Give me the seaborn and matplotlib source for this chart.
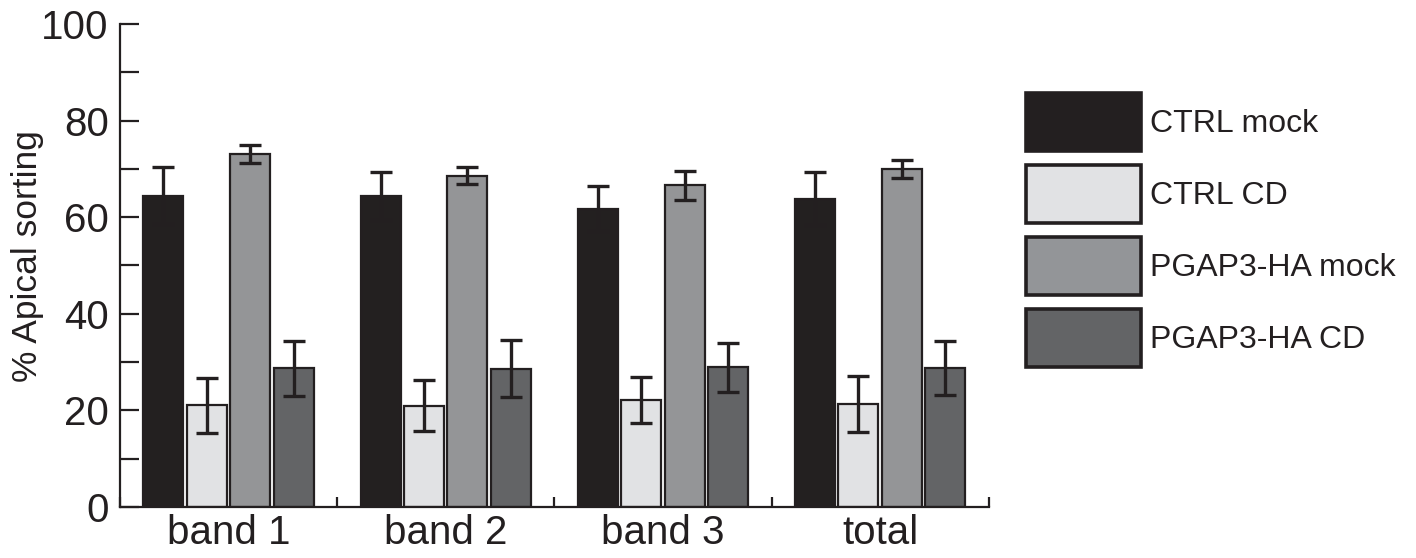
import pandas as pd
import matplotlib.pyplot as plt
import seaborn as sns
import numpy as np

# values
groups = ["band 1", "band 2", "band 3", "total"]
conditions = ["CTRL mock", "CTRL CD", "PGAP3-HA mock", "PGAP3-HA CD"]
ctrl_mock = [64.4, 64.4, 61.8, 63.8]
ctrl_cd = [21.1, 21.0, 22.2, 21.3]
pgap_mock = [73.1, 68.6, 66.6, 70.0]
pgap_cd = [28.7, 28.6, 28.9, 28.7]
ctrl_mock_err = [5.9, 4.9, 4.7, 5.5]
ctrl_cd_err = [5.7, 5.2, 4.8, 5.8]
pgap_mock_err = [1.8, 1.8, 3.0, 1.8]
pgap_cd_err = [5.7, 5.9, 5.1, 5.6]
colors = ["#231f20", "#e1e2e4", "#939598", "#636466"]

means = [ctrl_mock, ctrl_cd, pgap_mock, pgap_cd]
errs = [ctrl_mock_err, ctrl_cd_err, pgap_mock_err, pgap_cd_err]

rows = []
for cond, vals, ers in zip(conditions, means, errs):
    for g, v, e in zip(groups, vals, ers):
        rows.append({"group": g, "condition": cond, "value": v, "err": e})
df = pd.DataFrame(rows)

sns.set_style("ticks")
plt.rcParams["font.family"] = ["Liberation Sans", "DejaVu Sans"]
edge = "#231f20"

fig = plt.figure(figsize=(14.16, 5.58), dpi=100)
ax = fig.add_axes([0.0847, 0.0914, 0.6136, 0.8656])

sns.barplot(data=df, x="group", y="value", hue="condition", order=groups,
            hue_order=conditions, palette=colors, errorbar=None, width=0.8,
            gap=0.08, edgecolor=edge, linewidth=1.6, ax=ax, legend=False)

# error bars on top of the bars seaborn placed
for cond, container in zip(conditions, ax.containers):
    sub = df[df["condition"] == cond].set_index("group").loc[groups]
    xs = [p.get_x() + p.get_width() / 2 for p in container.patches]
    ax.errorbar(xs, sub["value"].values, yerr=sub["err"].values, fmt="none",
                ecolor=edge, elinewidth=2.4, capsize=8, capthick=2.4, zorder=5)

ax.set_ylim(0, 100)
ax.set_xlim(-0.5, 3.5)
ax.set_yticks(np.arange(0, 101, 20))
ax.set_yticks(np.arange(10, 100, 20), minor=True)
ax.set_xticks(np.arange(-0.5, 4, 1), minor=True)
ax.tick_params(axis="y", which="both", direction="in", length=14, width=1.6,
               labelsize=29, color=edge, labelcolor=edge, pad=8)
ax.tick_params(axis="x", which="major", length=0, labelsize=29,
               labelcolor=edge, pad=5)
ax.tick_params(axis="x", which="minor", direction="in", length=7, width=1.6,
               color=edge)
ax.set_xlabel("")
ax.set_ylabel("% Apical sorting", fontsize=25.5, color=edge)
ax.yaxis.set_label_coords(-0.087, 0.52)
sns.despine(ax=ax)
for s in ["left", "bottom"]:
    ax.spines[s].set_linewidth(1.6)
    ax.spines[s].set_color(edge)

handles = [plt.Rectangle((0, 0), 1, 1, facecolor=c, edgecolor=edge,
                         linewidth=2.6) for c in colors]
fig.legend(handles, conditions, loc="upper left",
           bbox_to_anchor=(0.713, 0.862), frameon=False, fontsize=23,
           handlelength=3.6, handleheight=2.42, labelspacing=0.44,
           handletextpad=0.3, borderpad=0, labelcolor=edge)

fig.savefig("out.png", dpi=100)
